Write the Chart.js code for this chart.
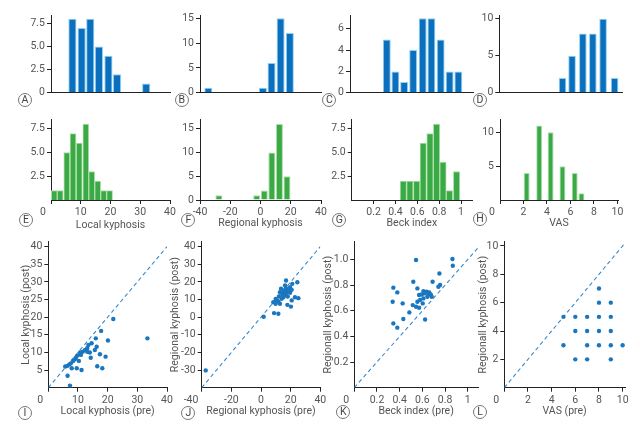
<!DOCTYPE html>
<html>
<head>
<meta charset="utf-8">
<script src="https://cdn.jsdelivr.net/npm/chart.js@4.4.1/dist/chart.umd.min.js"></script>
<style>
  html, body { margin: 0; padding: 0; background: #fff; }
  #wrap { position: relative; width: 640px; height: 425px; overflow: hidden; }
  #wrap canvas { position: absolute; }
  .tag {
    position: absolute; width: 12px; height: 12px; border: 1px solid #777; border-radius: 50%;
    font: 10.5px Roboto, 'Liberation Sans', sans-serif; color: #444;
    text-align: center; line-height: 12px; background: #fff;
  }
</style>
</head>
<body>
<div id="wrap"></div>
<script>
// ---- data (n = 35 patients) ----
// local kyphosis
const localPreBins = [7.2, 10.3, 13.2, 16.1, 19.3, 22.2, 32.0];
const localPreCounts = [8, 7, 8, 5, 4, 2, 1];
const localPostBins = [1.1, 3.1, 5.3, 7.4, 9.5, 11.7, 13.7, 15.7, 17.7, 19.7];
const localPostCounts = [1, 1, 5, 7, 6, 8, 3, 2, 1, 1];
const localPre = [21.9, 17.8, 33.4, 20.1, 16.0, 14.6, 13.5, 16.3, 15.7, 13.1, 12.4, 13.1, 11.6, 10.7, 14.0, 11.0, 17.4, 9.8,
  9.3, 9.0, 14.3, 19.3, 10.3, 8.4, 7.6, 7.1, 6.5, 5.7, 7.9, 9.6, 11.2, 16.5, 18.2, 6.5, 7.3];
const localPost = [19.5, 16.1, 14.0, 13.4, 14.0, 12.6, 12.1, 11.6, 10.7, 11.2, 10.7, 10.2, 10.2, 10.0, 10.0, 9.3, 9.5, 9.1,
  8.5, 8.1, 8.5, 8.8, 7.6, 7.6, 6.9, 6.6, 6.2, 6.0, 5.5, 5.5, 5.0, 6.1, 5.5, 3.4, 0.6];

// regional kyphosis
const regionalPreBins = [-34.5, 1.6, 7.3, 13.3, 19.4];
const regionalPreCounts = [1, 1, 6, 15, 12];
const regionalPostBins = [-27.5, -2.5, 2.5, 7.5, 12.5, 17.5];
const regionalPostCounts = [1, 1, 2, 10, 16, 5];
const regionalPre = [-37.3, 1.8, 16.9, 24.5, 21.1, 16.2, 19.6, 16.9, 13.5, 18.4, 20.7, 15.7, 12.8, 17.3, 19.6, 14.6, 14.6, 16.6,
  12.1, 18.0, 15.1, 22.9, 25.2, 9.9, 13.9, 20.7, 10.6, 11.7, 8.3, 9.9, 12.8, 17.8, 20.2, 8.8, 11.7];
const regionalPost = [-30.2, 0.2, 20.8, 19.8, 18.9, 18.0, 17.0, 16.4, 16.1, 15.5, 15.5, 15.1, 14.2, 14.2, 13.8, 13.8, 12.7, 12.7,
  11.7, 11.7, 11.3, 11.3, 10.8, 10.4, 10.4, 9.5, 9.5, 8.9, 8.5, 7.6, 7.6, 7.0, 6.0, 2.3, 1.9];

// Beck index
const beckPreBins = [0.329, 0.406, 0.484, 0.565, 0.65, 0.728, 0.811, 0.891, 0.969];
const beckPreCounts = [5, 2, 1, 4, 7, 7, 5, 2, 2];
const beckPostBins = [0.472, 0.532, 0.594, 0.654, 0.716, 0.776, 0.835, 0.894, 0.959];
const beckPostCounts = [2, 2, 2, 6, 7, 8, 4, 1, 3];
const beckPre = [0.544, 0.865, 0.868, 0.75, 0.52, 0.69, 0.756, 0.741, 0.344, 0.556, 0.379, 0.609, 0.638, 0.66, 0.615, 0.653,
  0.674, 0.571, 0.594, 0.644, 0.682, 0.609, 0.579, 0.338, 0.556, 0.426, 0.603, 0.515, 0.544, 0.571, 0.485, 0.344, 0.432, 0.624, 0.379];
const beckPost = [0.995, 1.003, 0.951, 0.89, 0.826, 0.826, 0.80, 0.787, 0.78, 0.774, 0.743, 0.753, 0.748, 0.743, 0.735, 0.727,
  0.727, 0.722, 0.727, 0.709, 0.709, 0.696, 0.683, 0.67, 0.67, 0.657, 0.657, 0.644, 0.631, 0.623, 0.587, 0.501, 0.535, 0.532, 0.468];

// VAS
const vasPreBins = [5.38, 6.19, 7.11, 7.96, 8.83, 9.81];
const vasPreCounts = [2, 5, 8, 8, 10, 2];
const vasPostBins = [2.27, 3.34, 4.31, 5.32, 6.36, 6.94];
const vasPostCounts = [4, 11, 10, 5, 4, 1];
const vasPre = [8, 8, 9, 5, 6, 7, 8, 9, 6, 7, 8, 9, 5, 7, 8, 9, 10, 6, 7, 9];
const vasPost = [7, 6, 6, 5, 5, 5, 5, 5, 4, 4, 4, 4, 3, 3, 3, 3, 3, 2, 2, 2];

// tick values and labels
const CORNER = '\u2002\u2002\u2002';
const ticksHistLocalY = [0, 2.5, 5, 7.5];
const labelsHistLocalY = ['0', '2.5', '5.0', '7.5'];
const ticksHistRegionalY = [0, 5, 10, 15];
const ticksHistBeckY = [0, 2, 4, 6];
const ticksHistVasY = [0, 5, 10];
const ticksMidY = [2.5, 5, 7.5];
const labelsMidY = ['2.5', '5.0', '7.5'];
const ticksLocalX = [0, 10, 20, 30, 40];
const labelsLocalX = ['0' + CORNER, '10', '20', '30', '40'];
const ticksRegionalX = [-40, -20, 0, 20, 40];
const labelsRegionalX = ['-40', '-20', '0', '20', '40'];
const labelsRegionalCornerX = ['-40' + CORNER + '\u2002', '-20', '0', '20', '40'];
const ticksBeckX = [0.2, 0.4, 0.6, 0.8, 1];
const labelsBeckX = ['0.2', '0.4', '0.6', '0.8', '1'];
const ticksBeckCornerX = [0, 0.2, 0.4, 0.6, 0.8, 1];
const labelsBeckCornerX = ['0' + CORNER, '0.2', '0.4', '0.6', '0.8', '1'];
const ticksVasX = [0, 2, 4, 6, 8, 10];
const labelsVasX = ['0' + CORNER, '2', '4', '6', '8', '10'];
const ticksVasHistY = [5, 10];
const ticksLocalScatterY = [5, 10, 15, 20, 25, 30, 35, 40];
const ticksRegionalScatterY = [-30, -20, -10, 0, 10, 20, 30, 40];
const ticksBeckScatterY = [0.2, 0.4, 0.6, 0.8, 1.0];
const labelsBeckScatterY = ['0.2', '0.4', '0.6', '0.8', '1.0'];
const ticksVasScatterY = [2, 4, 6, 8, 10];

// ---- drawing ----
const FAMILY = "Roboto, 'Liberation Sans', sans-serif";
const BLUE = '#0a6fbd', BLUE_EDGE = '#8fd0f2';
const GREEN = '#3aa946', GREEN_EDGE = '#aee0aa';
const DOT = '#1a76be', DASH = '#3a88cc';
const AXIS = '#222', TEXT = '#555';
const WY = 45, PADT = 12, PADR = 12;
const TICK_SIZE = 10.5, TITLE_SIZE = 10.5;
const wrap = document.getElementById('wrap');

function addTag(letter, cx, cy) {
  const d = document.createElement('div');
  d.className = 'tag';
  d.textContent = letter;
  d.style.left = (cx - 7) + 'px';
  d.style.top = (cy - 7) + 'px';
  wrap.appendChild(d);
}

function axisOpts(range, ticks, labels, showTicks, title, fit) {
  const o = {
    type: 'linear', min: range[0], max: range[1], offset: false,
    afterFit: fit,
    ticks: {
      display: showTicks, autoSkip: false, maxRotation: 0, padding: 2,
      color: TEXT, font: { family: FAMILY, size: TICK_SIZE },
      callback: (v, i) => labels ? labels[i] : String(v)
    },
    grid: { display: showTicks, drawOnChartArea: false, drawTicks: true, tickLength: 4, color: AXIS, offset: false },
    border: { display: true, color: AXIS, width: 1 },
    title: title
  };
  if (ticks) o.afterBuildTicks = s => { s.ticks = ticks.map(v => ({ value: v })); };
  return o;
}

function panel(p, type, datasets) {
  const [L, R, T, B] = p.box;
  const cl = Math.floor(L) - WY, ct = Math.floor(T) - PADT;
  const cw = Math.ceil(R) + PADR - cl, ch = Math.ceil(B) + p.hx - ct;
  const padLeft = L - WY - cl, padTop = T - ct, padRight = cw - (R - cl);
  const xAxisH = ch - (B - ct);
  const c = document.createElement('canvas');
  c.width = cw; c.height = ch;
  c.style.left = cl + 'px'; c.style.top = ct + 'px';
  c.style.width = cw + 'px'; c.style.height = ch + 'px';
  wrap.appendChild(c);

  const lh = TITLE_SIZE * 1.2;
  const xTitle = p.xTitle ? {
    display: true, text: p.xTitle, color: TEXT, font: { family: FAMILY, size: TITLE_SIZE },
    padding: { top: 0, bottom: ch - (p.xTitlePos[1] - ct) - lh / 2 }
  } : { display: false };
  const yTitle = p.yTitle ? {
    display: true, text: p.yTitle, color: TEXT, font: { family: FAMILY, size: TITLE_SIZE },
    padding: { top: p.yTitleX - cl - padLeft - lh / 2, bottom: 0 }
  } : { display: false };

  new Chart(c, {
    type: type,
    data: { datasets: datasets },
    options: {
      responsive: false, animation: false, events: [],
      layout: { padding: { left: padLeft, top: padTop, right: padRight, bottom: 0 } },
      plugins: { legend: { display: false }, tooltip: { enabled: false } },
      scales: {
        x: axisOpts(p.xRange, p.xTicks, p.xLabels, !!p.xTicks, xTitle, s => { s.height = xAxisH; }),
        y: axisOpts(p.yRange, p.yTicks, p.yLabels, true, yTitle, s => { s.width = WY; })
      }
    }
  });
  addTag(p.tag, p.tagPos[0], p.tagPos[1]);
}

function hist(p, bins, counts, fill, edge) {
  panel(p, 'bar', [{
    data: bins.map((x, i) => ({ x: x, y: counts[i] })),
    backgroundColor: fill, borderColor: edge, borderWidth: 1, borderSkipped: 'start',
    barPercentage: p.barPct, categoryPercentage: 1
  }]);
}

function scatter(p, xs, ys) {
  const lo = p.xRange[0], hi = p.xRange[1];
  panel(p, 'scatter', [
    { data: xs.map((x, i) => ({ x: x, y: ys[i] })), pointRadius: 2.2, backgroundColor: DOT, borderWidth: 0 },
    { data: [{ x: lo, y: lo }, { x: hi, y: hi }], showLine: true, pointRadius: 0, borderColor: DASH,
      borderWidth: 1.1, borderDash: [4, 3], fill: false }
  ]);
}

// top row: pre-operative histograms
hist({ tag: 'A', tagPos: [25, 100], box: [51, 170, 15, 94.7], hx: 6, xRange: [0, 40], yRange: [0, 8.4],
  yTicks: ticksHistLocalY, yLabels: labelsHistLocalY, barPct: 0.95 }, localPreBins, localPreCounts, BLUE, BLUE_EDGE);
hist({ tag: 'B', tagPos: [181.7, 100], box: [200, 321, 15, 94.7], hx: 6, xRange: [-40, 40], yRange: [0, 15.65],
  yTicks: ticksHistRegionalY, barPct: 0.93 }, regionalPreBins, regionalPreCounts, BLUE, BLUE_EDGE);
hist({ tag: 'C', tagPos: [329.3, 100], box: [350, 473, 15, 94.7], hx: 6, xRange: [0, 1.1], yRange: [0, 7.3],
  yTicks: ticksHistBeckY, barPct: 0.92 }, beckPreBins, beckPreCounts, BLUE, BLUE_EDGE);
hist({ tag: 'D', tagPos: [480, 100], box: [499.3, 622, 15, 94.7], hx: 6, xRange: [0, 10.44], yRange: [0, 10.5],
  yTicks: ticksHistVasY, barPct: 0.8 }, vasPreBins, vasPreCounts, BLUE, BLUE_EDGE);

// middle row: post-operative histograms
hist({ tag: 'E', tagPos: [26, 220], box: [51, 170, 119.3, 200], hx: 34, xRange: [0, 40], yRange: [0, 8.5],
  yTicks: ticksMidY, yLabels: labelsMidY, xTicks: ticksLocalX, xLabels: labelsLocalX,
  xTitle: 'Local kyphosis', xTitlePos: [113, 225], barPct: 1 }, localPostBins, localPostCounts, GREEN, GREEN_EDGE);
hist({ tag: 'F', tagPos: [188.3, 220], box: [200, 321, 119.3, 200], hx: 34, xRange: [-40, 40], yRange: [0, 17],
  yTicks: ticksHistRegionalY, xTicks: ticksRegionalX, xLabels: labelsRegionalX,
  xTitle: 'Regional kyphosis', xTitlePos: [258, 223.3], barPct: 0.93 }, regionalPostBins, regionalPostCounts, GREEN, GREEN_EDGE);
hist({ tag: 'G', tagPos: [339.3, 220], box: [351.7, 472, 119.3, 200], hx: 34, xRange: [0, 1.1], yRange: [0, 8.5],
  yTicks: ticksMidY, yLabels: labelsMidY, xTicks: ticksBeckX, xLabels: labelsBeckX,
  xTitle: 'Beck index', xTitlePos: [410, 223.3], barPct: 1 }, beckPostBins, beckPostCounts, GREEN, GREEN_EDGE);
hist({ tag: 'H', tagPos: [480, 219], box: [500, 618, 119.3, 200], hx: 34, xRange: [0, 10.05], yRange: [0, 11.93],
  yTicks: ticksVasHistY, xTicks: ticksVasX, xLabels: labelsVasX,
  xTitle: 'VAS', xTitlePos: [560, 223.3], barPct: 0.88 }, vasPostBins, vasPostCounts, GREEN, GREEN_EDGE);

// bottom row: pre vs post scatter plots
scatter({ tag: 'I', tagPos: [25, 413], box: [48.3, 167, 241.7, 387.7], hx: 34, xRange: [0, 40], yRange: [0, 41.4],
  yTicks: ticksLocalScatterY, xTicks: ticksLocalX, xLabels: labelsLocalX,
  xTitle: 'Local kyphosis (pre)', xTitlePos: [108, 411], yTitle: 'Local kyphosis (post)', yTitleX: 26 },
  localPre, localPost);
scatter({ tag: 'J', tagPos: [188.3, 413], box: [201.7, 320.3, 241.7, 387.7], hx: 34, xRange: [-40, 40], yRange: [-40, 42.8],
  yTicks: ticksRegionalScatterY, xTicks: ticksRegionalX, xLabels: labelsRegionalCornerX,
  xTitle: 'Regional kyphosis (pre)', xTitlePos: [261.7, 411], yTitle: 'Regional kyphosis (post)', yTitleX: 175 },
  regionalPre, regionalPost);
scatter({ tag: 'K', tagPos: [343.3, 411.7], box: [354.3, 478, 241.7, 387.7], hx: 34, xRange: [0, 1.09], yRange: [0, 1.138],
  yTicks: ticksBeckScatterY, yLabels: labelsBeckScatterY, xTicks: ticksBeckCornerX, xLabels: labelsBeckCornerX,
  xTitle: 'Beck index (pre)', xTitlePos: [418, 411.7], yTitle: 'Regionall kyphosis (post)', yTitleX: 328.3 },
  beckPre, beckPost);
scatter({ tag: 'L', tagPos: [480, 411.7], box: [504.3, 625, 241.7, 387.7], hx: 34, xRange: [0, 10.2], yRange: [0, 10.3],
  yTicks: ticksVasScatterY, xTicks: ticksVasX, xLabels: labelsVasX,
  xTitle: 'VAS (pre)', xTitlePos: [565, 411], yTitle: 'Regionall kyphosis (post)', yTitleX: 483.3 },
  vasPre, vasPost);
</script>
</body>
</html>
